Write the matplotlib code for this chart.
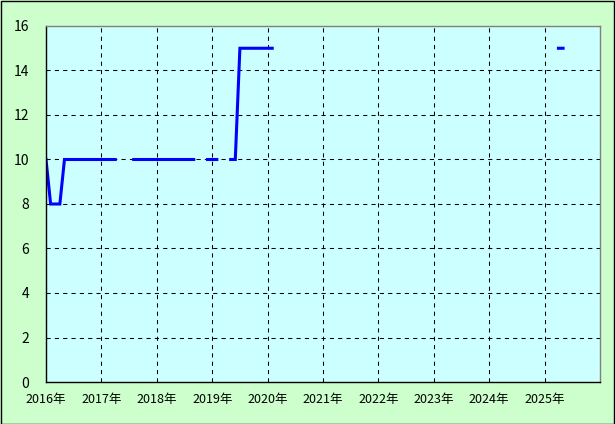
"""
Recreate monthly step chart 2016-2025 (values 0-16)
"""
import numpy as np
import matplotlib
matplotlib.use('Agg')
import matplotlib.pyplot as plt
from matplotlib.patches import Rectangle

plt.rcParams['font.family'] = ['Noto Sans CJK JP', 'DejaVu Sans']

# data: month index from Jan 2016 -> value (missing months left as NaN)
seg_months = [
    list(range(0, 16)),
    list(range(19, 33)),
    list(range(35, 38)),
    list(range(40, 50)),
    [111, 112],
]
seg_values = [
    [10, 8, 8, 8] + [10] * 12,
    [10] * 14,
    [10] * 3,
    [10, 10] + [15] * 8,
    [15, 15],
]
year_labels = ['2016年', '2017年', '2018年', '2019年', '2020年',
               '2021年', '2022年', '2023年', '2024年', '2025年']
y_ticks = [0, 2, 4, 6, 8, 10, 12, 14, 16]

n_months = 120
values = np.full(n_months, np.nan)
for months, vals in zip(seg_months, seg_values):
    values[months] = vals
x = 2016 + np.arange(n_months) / 12.0

W, H = 615, 424
fig = plt.figure(figsize=(W / 100, H / 100), dpi=100)
fig.patch.set_facecolor('#ccffcc')
fig.patches.append(Rectangle((0.5 / W, 0.5 / H), 1 - 1.5 / W, 1 - 1.5 / H,
                             transform=fig.transFigure, fill=False,
                             edgecolor='black', linewidth=1.0))

ax = fig.add_axes([46 / W, 1 - 382 / H, (600 - 46) / W, (382 - 26) / H])
ax.set_facecolor('#ccffff')

ax.plot(x, values, color='#0000ff', linewidth=2.2,
        solid_capstyle='projecting', solid_joinstyle='miter')

ax.set_xlim(2016, 2026)
ax.set_ylim(0, 16)
ax.set_xticks(range(2016, 2026))
ax.set_xticklabels(year_labels, fontsize=9)
ax.set_yticks(y_ticks)
ax.set_yticklabels([str(v) for v in y_ticks], fontsize=10)
ax.tick_params(axis='both', length=0, colors='black')
ax.tick_params(axis='x', pad=8)
ax.tick_params(axis='y', pad=12)

ax.grid(True, color='black', linestyle=(0, (4, 4)), linewidth=0.75)
ax.set_axisbelow(True)

for side in ['left', 'bottom']:
    ax.spines[side].set_color('black')
    ax.spines[side].set_linewidth(1.0)
for side in ['top', 'right']:
    ax.spines[side].set_color('#808080')
    ax.spines[side].set_linewidth(1.0)

plt.savefig('out.png', dpi=100, facecolor=fig.get_facecolor())
plt.close()
